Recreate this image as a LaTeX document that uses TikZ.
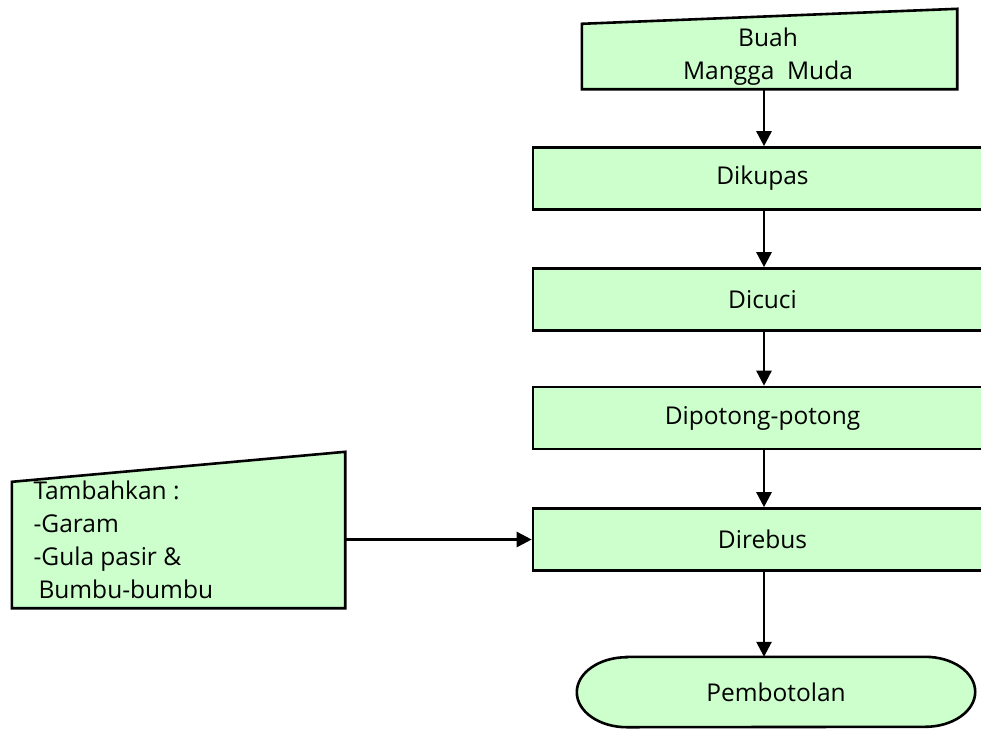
\documentclass[tikz,border=0pt]{standalone}
\usepackage{fontspec}
\setmainfont{Open Sans}
\usetikzlibrary{arrows.meta,calc}

\definecolor{boxgreen}{HTML}{CCFFCC}

\tikzset{
  x=1pt, y=-1pt,
  every node/.style={font=\fontsize{24.5}{33}\selectfont},
  outline/.style={draw=black, line width=2.6pt, fill=boxgreen, line join=miter},
  procbox/.style={outline, rectangle, minimum width=459pt, minimum height=62pt, inner sep=0pt},
  frame/.style={rectangle, inner sep=0pt},
  flow/.style={draw=black, line width=2.6pt, -{Triangle[length=15pt,width=15pt]}},
}

\begin{document}
\begin{tikzpicture}
  \useasboundingbox (0,0) rectangle (981,729);
  \clip (0,0) rectangle (981,729);

  % manual input: raw material
  \node[frame, minimum width=375pt, minimum height=80pt] (buah) at (769.5,49) {};
  \draw[outline] (buah.south west) -- (buah.south east) -- (buah.north east)
    -- ($(buah.north west)+(0,15)$) -- cycle;
  \node[align=center] (buahtext) at (768,57) {Buah\\Mangga~ Muda};

  % process steps
  \node[procbox] (kupas)  at (762.5,178.5) {Dikupas};
  \node[procbox] (cuci)   at (762.5,299.5) {Dicuci};
  \node[procbox] (potong) at (762.5,418)   {Dipotong-potong};
  \node[procbox] (rebus)  at (762.5,539.5) {Direbus};

  % terminal with elliptical ends
  \node[frame, minimum width=398pt, minimum height=70pt] (botol) at (776,692) {};
  \draw[outline] ($(botol.north west)+(50,0)$) -- ($(botol.north east)+(-50,0)$)
    arc[start angle=90, end angle=-90, x radius=50pt, y radius=35pt]
    -- ($(botol.south west)+(50,0)$)
    arc[start angle=270, end angle=90, x radius=50pt, y radius=35pt] -- cycle;
  \node (botoltext) at (botol.center) {Pembotolan};

  % manual input: seasoning
  \node[frame, minimum width=333pt, minimum height=156pt] (bumbu) at (178.5,530) {};
  \draw[outline] (bumbu.south west) -- (bumbu.south east) -- (bumbu.north east)
    -- ($(bumbu.north west)+(0,30)$) -- cycle;
  \node[align=left, anchor=north west] (bumbutext) at (30,477)
    {Tambahkan :\\-Garam\\-Gula pasir \&\\\hspace{5pt}Bumbu-bumbu};

  % connectors
  \coordinate (axis) at (764,0);
  \draw[flow] (buah.south -| axis) -- (kupas.north -| axis);
  \draw[flow] (kupas.south -| axis) -- (cuci.north -| axis);
  \draw[flow] (cuci.south -| axis) -- (potong.north -| axis);
  \draw[flow] (potong.south -| axis) -- (rebus.north -| axis);
  \draw[flow] (rebus.south -| axis) -- (botol.north -| axis);
  \draw[flow] (bumbu.east |- rebus.west) -- (rebus.west);
\end{tikzpicture}
\end{document}
